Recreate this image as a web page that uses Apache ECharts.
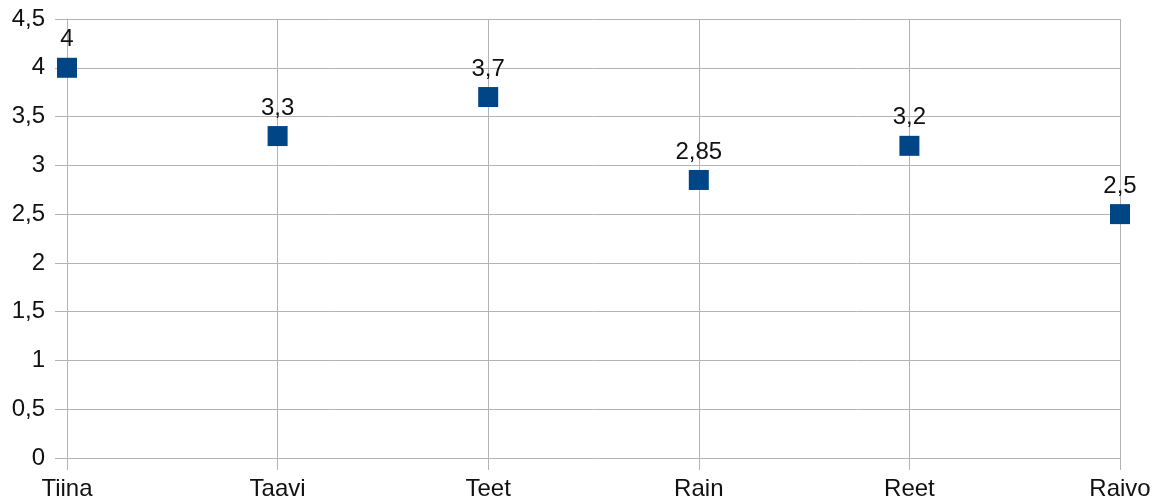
<!DOCTYPE html>
<html>
<head>
<meta charset="utf-8">
<script src="https://cdn.jsdelivr.net/npm/echarts@6/dist/echarts.min.js"></script>
<style>
  html, body { margin: 0; padding: 0; background: #fff; }
  #chart { width: 1155px; height: 504px; }
</style>
</head>
<body>
<div id="chart"></div>
<script>
// andmed
var names = ['Tiina', 'Taavi', 'Teet', 'Rain', 'Reet', 'Raivo'];
var scores = [4, 3.3, 3.7, 2.85, 3.2, 2.5];

var chart = echarts.init(document.getElementById('chart'));
var gridColor = '#b3b3b3';
var textColor = '#111';
var fmt = function (v) { return String(v).replace('.', ','); };

var option = {
  animation: false,
  textStyle: { fontFamily: 'Liberation Sans, Arial, sans-serif' },
  grid: { left: 67, right: 35, top: 19, bottom: 46 },
  xAxis: {
    type: 'category',
    data: names,
    boundaryGap: false,
    axisLine: { lineStyle: { color: gridColor } },
    axisTick: { show: true, length: 12, lineStyle: { color: gridColor } },
    axisLabel: { color: textColor, fontSize: 24, margin: 19 },
    splitLine: { show: true, lineStyle: { color: gridColor } }
  },
  yAxis: {
    type: 'value',
    min: 0,
    max: 4.5,
    interval: 0.5,
    axisLine: { show: true, lineStyle: { color: gridColor } },
    axisTick: { show: true, length: 12, lineStyle: { color: gridColor } },
    axisLabel: { color: textColor, fontSize: 24, margin: 22, padding: [3, 0, 0, 0], formatter: fmt },
    splitLine: { lineStyle: { color: gridColor } }
  },
  series: [{
    type: 'scatter',
    data: scores,
    symbol: 'rect',
    symbolSize: 20,
    itemStyle: { color: '#004586', opacity: 1 },
    label: {
      show: true,
      position: 'top',
      distance: 6,
      color: textColor,
      fontSize: 24,
      formatter: function (p) { return fmt(p.value); }
    }
  }]
};
chart.setOption(option);
</script>
</body>
</html>
